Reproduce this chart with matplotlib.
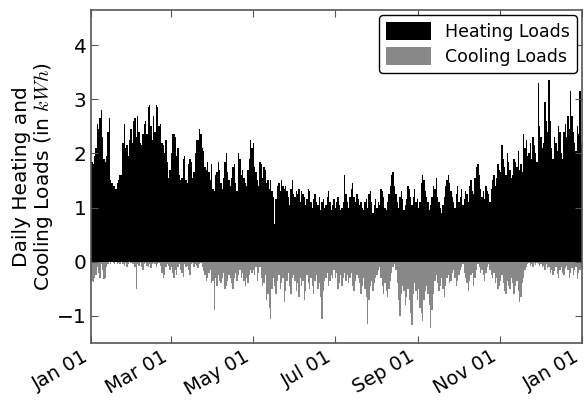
import matplotlib
matplotlib.use("Agg")
import matplotlib.pyplot as plt
import matplotlib.dates as mdates
import numpy as np
import pandas as pd

plt.rcParams["mathtext.fontset"] = "cm"

heat_jan = [1.85, 1.80, 1.95, 2.10, 2.55, 2.45, 2.65, 2.80, 2.30, 1.90, 1.85, 1.95, 2.40, 2.65, 1.50, 1.45, 1.40, 1.40, 1.35, 1.45, 1.50, 1.60, 1.60, 2.20, 2.55, 2.10, 2.15, 1.95, 2.25, 2.45, 2.20]
heat_feb = [2.60, 2.65, 2.30, 2.70, 2.40, 2.20, 2.15, 2.35, 2.55, 2.60, 2.35, 2.85, 2.90, 2.50, 2.25, 2.70, 2.40, 2.90, 2.85, 2.50, 2.55, 2.20, 2.15, 2.00, 2.25, 1.85, 1.55, 1.70]
heat_mar = [2.00, 2.35, 2.35, 2.30, 1.95, 2.10, 1.60, 1.50, 1.55, 1.90, 1.95, 1.50, 1.45, 1.80, 1.90, 1.85, 1.55, 1.65, 2.00, 2.25, 2.25, 2.45, 2.35, 2.10, 2.05, 1.75, 1.70, 1.85, 1.65, 1.50, 1.80]
heat_apr = [1.35, 1.30, 1.60, 1.65, 1.85, 1.70, 1.45, 1.35, 1.55, 1.85, 2.00, 1.65, 1.50, 1.40, 1.55, 1.75, 1.80, 1.45, 1.30, 2.00, 1.90, 1.60, 1.70, 1.55, 1.45, 1.40, 1.70, 1.90, 2.25, 2.10]
heat_may = [2.20, 1.75, 1.65, 1.50, 1.40, 1.85, 1.80, 1.55, 1.75, 1.70, 1.45, 1.50, 1.35, 1.50, 1.30, 1.20, 0.70, 1.15, 1.40, 1.45, 1.30, 1.50, 1.40, 1.35, 1.40, 1.30, 1.20, 1.05, 1.35, 1.50, 1.25]
heat_jun = [1.20, 1.30, 1.25, 1.35, 1.10, 1.30, 1.25, 1.20, 1.05, 1.15, 1.35, 1.30, 1.10, 1.00, 1.15, 1.25, 1.10, 1.05, 1.20, 0.95, 1.10, 1.15, 1.00, 1.05, 1.20, 1.30, 1.10, 0.95, 1.05, 1.15]
heat_jul = [1.00, 1.10, 1.20, 1.05, 0.95, 1.00, 1.10, 1.60, 1.25, 1.10, 1.00, 1.20, 1.35, 1.45, 1.20, 1.10, 1.25, 1.15, 1.05, 1.10, 1.00, 0.95, 1.10, 1.15, 1.00, 1.25, 1.30, 1.10, 0.90, 1.05, 1.15]
heat_aug = [1.00, 1.10, 1.05, 1.35, 1.30, 1.20, 1.00, 0.95, 1.10, 1.25, 1.40, 1.60, 1.65, 1.40, 1.25, 1.10, 1.00, 1.20, 1.30, 1.15, 0.95, 1.05, 1.15, 1.40, 1.35, 1.20, 1.05, 1.20, 1.35, 1.10, 1.15]
heat_sep = [1.00, 1.10, 1.45, 1.60, 1.50, 1.30, 1.20, 1.10, 0.95, 1.05, 1.20, 1.40, 1.35, 1.55, 1.20, 1.10, 1.00, 0.90, 1.05, 1.20, 1.40, 1.50, 1.60, 1.45, 1.30, 1.20, 1.10, 1.00, 1.25, 1.40]
heat_oct = [1.10, 1.20, 1.35, 1.05, 1.15, 1.30, 1.25, 1.10, 1.40, 1.50, 1.30, 1.25, 1.55, 1.75, 1.80, 1.60, 1.35, 1.20, 1.30, 1.15, 1.40, 1.30, 1.25, 1.10, 1.35, 1.50, 1.60, 1.40, 1.55, 1.80, 1.70]
heat_nov = [1.65, 2.15, 1.90, 1.75, 1.60, 2.00, 1.85, 1.70, 1.55, 1.60, 1.90, 1.85, 1.75, 2.05, 1.70, 1.80, 1.65, 2.35, 2.10, 2.25, 1.95, 2.00, 2.20, 1.90, 2.30, 2.15, 2.00, 1.85, 3.30, 2.50]
heat_dec = [2.30, 2.10, 2.20, 2.95, 2.60, 2.40, 3.35, 2.60, 2.10, 1.90, 2.30, 2.20, 2.05, 2.50, 2.40, 2.00, 1.90, 2.40, 2.55, 2.30, 2.70, 2.45, 3.15, 2.70, 2.40, 2.20, 2.05, 2.50, 2.35, 3.15, 2.20]

cool_jan = [-0.35, -0.38, -0.30, -0.25, -0.10, -0.20, -0.30, -0.05, -0.15, -0.32, -0.30, -0.10, -0.05, 0, -0.05, 0, -0.02, -0.05, 0, -0.05, -0.03, -0.05, 0, -0.05, -0.08, -0.02, -0.10, -0.05, 0, -0.03, -0.05]
cool_feb = [-0.05, -0.10, -0.50, -0.05, -0.08, -0.03, -0.10, -0.15, -0.05, -0.02, -0.08, -0.10, -0.05, -0.12, -0.05, -0.03, -0.05, -0.10, -0.05, -0.02, -0.08, -0.20, -0.30, -0.25, -0.10, -0.05, -0.08, -0.15]
cool_mar = [-0.10, -0.20, -0.30, -0.15, -0.25, -0.10, -0.05, -0.15, -0.20, -0.28, -0.05, -0.10, -0.08, -0.15, -0.25, -0.05, -0.03, -0.10, -0.05, -0.08, -0.12, -0.05, -0.03, -0.10, -0.18, -0.25, -0.35, -0.30, -0.20, -0.15, -0.40]
cool_apr = [-0.35, -0.90, -0.30, -0.45, -0.25, -0.35, -0.40, -0.30, -0.20, -0.50, -0.45, -0.35, -0.25, -0.30, -0.40, -0.50, -0.30, -0.20, -0.35, -0.25, -0.15, -0.30, -0.20, -0.35, -0.45, -0.30, -0.40, -0.25, -0.15, -0.20]
cool_may = [-0.15, -0.25, -0.10, -0.35, -0.20, -0.10, -0.30, -0.45, -0.40, -0.25, -0.70, -0.60, -0.85, -1.05, -0.50, -0.30, -0.45, -0.60, -0.35, -0.25, -0.50, -0.40, -0.30, -0.75, -0.55, -0.35, -0.20, -0.45, -0.60, -0.30, -0.25]
cool_jun = [-0.35, -0.55, -0.40, -0.65, -0.30, -0.45, -0.35, -0.70, -0.55, -0.25, -0.40, -0.50, -0.30, -0.45, -0.60, -0.35, -0.25, -0.50, -0.40, -0.65, -1.05, -0.55, -0.35, -0.30, -0.20, -0.45, -0.35, -0.25, -0.30, -0.15]
cool_jul = [-0.30, -0.20, -0.50, -0.40, -0.25, -0.45, -0.30, -0.20, -0.35, -0.25, -0.40, -0.30, -0.20, -0.45, -0.55, -0.35, -0.25, -0.30, -0.40, -0.60, -0.45, -0.30, -0.50, -0.65, -1.15, -0.70, -0.45, -0.35, -0.55, -0.40, -0.30]
cool_aug = [-0.25, -0.15, -0.10, -0.30, -0.45, -0.60, -0.40, -0.55, -0.65, -0.50, -0.35, -0.20, -0.10, -0.05, -0.15, -0.40, -0.70, -1.00, -0.60, -0.45, -0.55, -0.80, -0.65, -0.50, -0.70, -0.95, -1.17, -0.60, -0.40, -0.55, -0.70]
cool_sep = [-0.50, -0.85, -0.95, -1.10, -0.70, -0.55, -0.45, -0.60, -0.80, -1.22, -0.90, -0.60, -0.35, -0.25, -0.40, -0.55, -0.45, -0.30, -0.50, -0.65, -0.45, -0.30, -0.25, -0.40, -0.35, -0.20, -0.15, -0.30, -0.45, -0.35]
cool_oct = [-0.25, -0.15, -0.10, -0.05, -0.20, -0.30, -0.40, -0.55, -0.35, -0.25, -0.20, -0.45, -0.30, -0.15, -0.05, -0.10, -0.20, -0.15, -0.25, -0.35, -0.20, -0.10, -0.05, -0.15, -0.25, -0.30, -0.20, -0.40, -0.30, -0.50, -0.45]
cool_nov = [-0.35, -0.25, -0.40, -0.55, -0.60, -0.35, -0.45, -0.50, -0.30, -0.40, -0.60, -0.45, -0.35, -0.55, -0.74, -0.65, -0.40, -0.30, -0.15, -0.10, -0.05, -0.02, -0.08, -0.05, -0.10, -0.03, -0.06, -0.02, -0.05, -0.08]
cool_dec = [-0.05, -0.10, -0.08, -0.15, -0.05, -0.12, -0.10, -0.20, -0.15, -0.25, -0.18, -0.10, -0.22, -0.30, -0.15, -0.10, -0.20, -0.25, -0.12, -0.08, -0.15, -0.30, -0.20, -0.12, -0.25, -0.15, -0.10, -0.32, -0.20, -0.15, -0.10]

heating = (heat_jan + heat_feb + heat_mar + heat_apr + heat_may + heat_jun +
           heat_jul + heat_aug + heat_sep + heat_oct + heat_nov + heat_dec)
cooling = (cool_jan + cool_feb + cool_mar + cool_apr + cool_may + cool_jun +
           cool_jul + cool_aug + cool_sep + cool_oct + cool_nov + cool_dec)

dates_h = pd.date_range("2013-01-01", periods=len(heating), freq="D")
dates_c = pd.date_range("2013-01-01", periods=len(cooling), freq="D")

fig = plt.figure(figsize=(5.85, 4.01), dpi=100)
ax = fig.add_axes([0.156, 0.145, 0.839, 0.83])

ax.bar(dates_h, heating, width=1.0, color="black", linewidth=0, label="Heating Loads", align="edge")
ax.bar(dates_c, cooling, width=1.0, color="#888888", linewidth=0, label="Cooling Loads", align="edge")

ax.set_xlim(pd.Timestamp("2013-01-01"), pd.Timestamp("2014-01-01"))
ax.set_ylim(-1.5, 4.65)
ax.set_yticks([-1, 0, 1, 2, 3, 4])
ax.xaxis.set_major_locator(mdates.MonthLocator(bymonth=[1, 3, 5, 7, 9, 11]))
ax.xaxis.set_major_formatter(mdates.DateFormatter("%b %d"))
ax.xaxis.set_minor_locator(mdates.MonthLocator())
ax.tick_params(axis="both", which="both", direction="in", top=True, right=True)
ax.tick_params(axis="both", which="major", length=5, labelsize=14.5, color="#555555")
ax.tick_params(axis="x", which="major", labelsize=14, pad=3)
ax.tick_params(axis="both", which="minor", length=0)
for lbl in ax.get_xticklabels():
    lbl.set_rotation(30)
    lbl.set_ha("right")
for sp in ax.spines.values():
    sp.set_color("#555555")
    sp.set_linewidth(1.2)

ax.set_ylabel("Daily Heating and\nCooling Loads (in $kWh$)", fontsize=14.5,
              labelpad=1, linespacing=1.1)

leg = ax.legend(loc="upper right", fontsize=12.5, fancybox=True, framealpha=1,
                handlelength=2.6, handleheight=1.2, borderaxespad=0.3,
                labelspacing=0.35)
leg.get_frame().set_edgecolor("black")

fig.savefig("out.png", dpi=100)
